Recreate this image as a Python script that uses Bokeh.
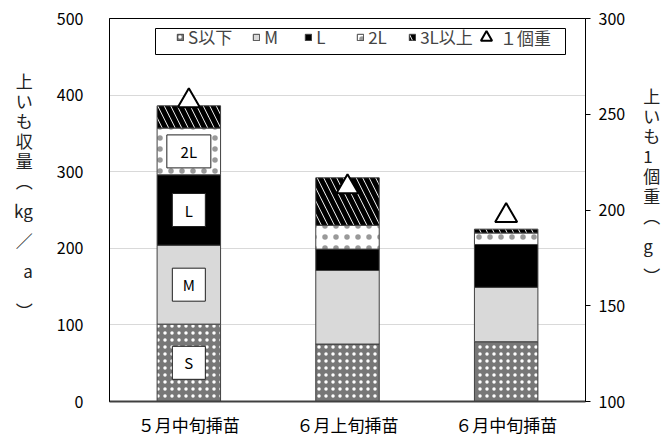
import numpy as np
from bokeh.plotting import figure
from bokeh.models import (Range1d, LinearAxis, Legend, LegendItem,
                          ColumnDataSource, FixedTicker, BoxAnnotation)
from bokeh.embed import file_html
from bokeh.resources import INLINE
from bokeh.core.properties import value

# ---------------- data ----------------
categories = ["５月中旬挿苗", "６月上旬挿苗", "６月中旬挿苗"]
s_below = [101, 75, 78]      # S以下
m_size = [103, 96, 71]       # M
l_size = [92, 28, 56]        # L
l2_size = [61, 31, 15]       # 2L
l3_above = [29, 62, 5]       # 3L以上
unit_weight = [257, 212, 197]  # 1個重 (g)

series_names = ["S以下", "M", "L", "2L", "3L以上"]
weight_name = "１個重"
box_labels = ["S", "M", "L", "2L"]
left_ticks = [0, 100, 200, 300, 400, 500]
right_ticks = [100, 150, 200, 250, 300]
left_title = ["上", "い", "も", "収", "量", "︵", "kg", "／", "a", "︶"]
right_title = ["上", "い", "も", "1", "個", "重", "︵", "g", "︶"]

JP = "Noto Sans CJK JP"

# ---------------- figure ----------------
FL, FR, FT, FB = 109, 585, 18, 405  # frame edges in canvas px
p = figure(x_range=categories, y_range=Range1d(0, 500), width=670, height=439,
           output_backend="svg", toolbar_location=None,
           min_border_left=FL, min_border_right=670 - FR,
           min_border_top=FT, min_border_bottom=439 - FB)
p.x_range.range_padding = 0
p.extra_y_ranges = {"right": Range1d(100, 300)}
p.outline_line_color = "black"
p.outline_line_width = 1
p.background_fill_color = "white"

src = ColumnDataSource(dict(cat=categories, s=s_below, m=m_size, l=l_size,
                            l2=l2_size, l3=l3_above))
stackers = ["s", "m", "l", "l2", "l3"]
rends = p.vbar_stack(
    stackers, x="cat", width=0.4, source=src,
    fill_color=["#777777", "#d9d9d9", "black", "white", "white"],
    line_color="#404040", line_width=1,
    hatch_pattern=["dot", "blank", "blank", "dot", "left_diagonal_line"],
    hatch_color=["white", "black", "black", "black", "black"],
    hatch_alpha=[1.0, 1.0, 1.0, 0.4, 1.0],
    hatch_scale=[7, 10, 10, 11, 13],
    hatch_weight=[2, 1, 1, 0.5, 5],
)

# label boxes on first bar
first = np.array([s_below[0], m_size[0], l_size[0], l2_size[0]], dtype=float)
mids = np.cumsum(first) - first / 2
p.rect(x=[categories[0]] * 4, y=mids, width=[33, 33, 33, 44], height=33,
       width_units="screen", height_units="screen",
       fill_color="white", line_color="#202020", line_width=1)
p.text(x=[categories[0]] * 4, y=mids, text=box_labels, text_align="center",
       text_baseline="middle", text_font=value(JP), text_font_size="15px",
       text_color="black")

tri = p.scatter(x=categories, y=unit_weight, y_range_name="right",
                marker="triangle", size=22, fill_color="white",
                line_color="black", line_width=2)

# ---------------- axes ----------------
p.xaxis.major_label_text_font = JP
p.xaxis.major_label_text_font_size = "17px"
p.xaxis.major_label_text_color = "black"
p.xaxis.major_tick_line_color = None
p.xaxis.major_tick_out = 0
p.xaxis.major_label_standoff = 10
p.xaxis.axis_line_color = "#404040"
p.xaxis.axis_line_width = 2


def vertical_title(chars, slots, nlines):
    lines = [""] * nlines
    for ch, s in zip(chars, slots):
        lines[s] = ch
    return "\n".join(lines)


ly = p.yaxis[0]
ly.ticker = FixedTicker(ticks=left_ticks)
ly.major_tick_line_color = None
ly.minor_tick_line_color = None
ly.major_tick_out = 0
ly.major_label_standoff = 26
ly.major_label_text_font = JP
ly.major_label_text_font_size = "16px"
ly.major_label_text_color = "black"
ly.axis_line_color = "black"
ly.axis_label = vertical_title(left_title, [0, 2, 4, 6, 8, 10, 13, 16, 19, 23], 27)
ly.axis_label_orientation = "horizontal"
ly.axis_label_text_font = JP
ly.axis_label_text_font_size = "17px"
ly.axis_label_text_font_style = "normal"
ly.axis_label_text_color = "#222222"
ly.axis_label_text_line_height = 0.4
ly.axis_label_standoff = 21

ry = LinearAxis(y_range_name="right", ticker=FixedTicker(ticks=right_ticks))
ry.major_tick_out = 5
ry.major_tick_in = 0
ry.major_tick_line_color = "black"
ry.minor_tick_line_color = None
ry.major_label_standoff = 8
ry.major_label_text_font = JP
ry.major_label_text_font_size = "16px"
ry.major_label_text_color = "black"
ry.axis_line_color = "black"
ry.axis_label = vertical_title(right_title, [0, 2, 4, 6, 8, 10, 12, 15, 18], 24)
ry.axis_label_orientation = "horizontal"
ry.axis_label_text_font = JP
ry.axis_label_text_font_size = "17px"
ry.axis_label_text_font_style = "normal"
ry.axis_label_text_color = "#222222"
ry.axis_label_text_line_height = 0.4
ry.axis_label_standoff = 15
p.add_layout(ry, "right")

p.xgrid.visible = False
p.ygrid.ticker = FixedTicker(ticks=[100, 200, 300, 400])
p.ygrid.grid_line_color = "#d9d9d9"
p.ygrid.grid_line_width = 1

# ---------------- legend ----------------
legend_frame = BoxAnnotation(left=155, right=565, top=28, bottom=54,
                             left_units="canvas", right_units="canvas",
                             top_units="canvas", bottom_units="canvas",
                             fill_color="white", fill_alpha=1,
                             line_color="black", line_width=1, line_alpha=1)
p.add_layout(legend_frame)

items = [LegendItem(label=n, renderers=[r]) for n, r in zip(series_names, rends)]
legend_a = Legend(items=items, orientation="horizontal", location=(67, 352),
                  border_line_color=None, background_fill_alpha=0,
                  label_text_font=JP, label_text_font_size="17px",
                  glyph_width=8, glyph_height=8, label_standoff=4,
                  spacing=20, padding=0, margin=0, label_height=16)
legend_b = Legend(items=[LegendItem(label=weight_name, renderers=[tri])],
                  orientation="horizontal", location=(363, 350),
                  border_line_color=None, background_fill_alpha=0,
                  label_text_font=JP, label_text_font_size="17px",
                  glyph_width=28, glyph_height=28, label_standoff=0,
                  spacing=0, padding=0, margin=0, label_height=16)
p.add_layout(legend_a)
p.add_layout(legend_b)

open("out.html", "w").write(file_html(p, INLINE))
